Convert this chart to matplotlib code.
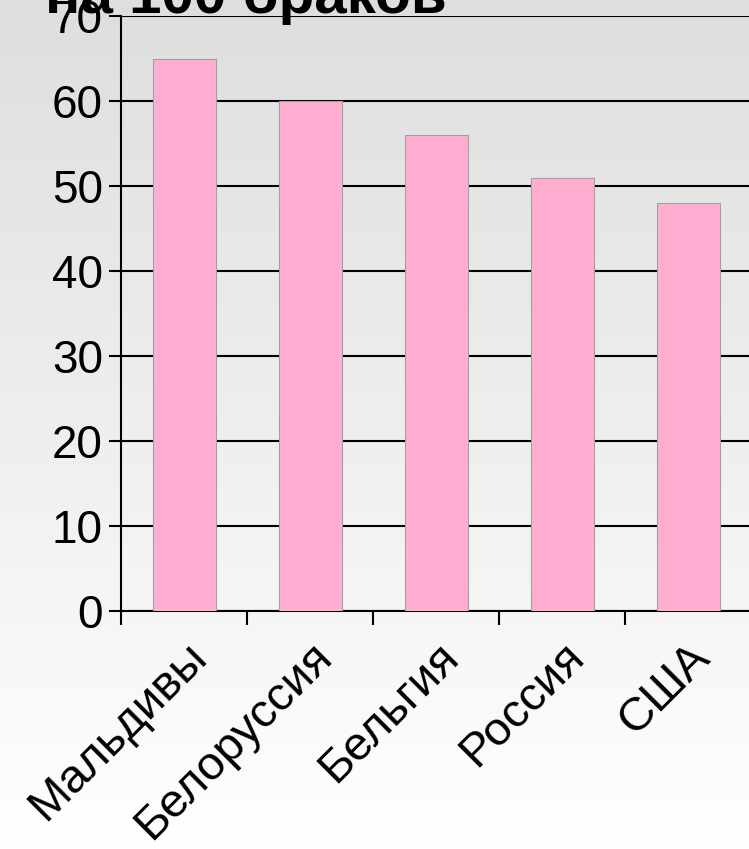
import numpy as np
import matplotlib.pyplot as plt
from matplotlib.colors import LinearSegmentedColormap

plt.rcParams['font.family'] = ['Liberation Sans', 'DejaVu Sans']

# data
countries = ['Мальдивы', 'Белоруссия', 'Бельгия', 'Россия', 'США']
divorces = [65, 60, 56, 51, 48]
y_ticks = [0, 10, 20, 30, 40, 50, 60, 70]

fig = plt.figure(figsize=(7.49, 8.49), dpi=100)

# gradient background, gray at top to white at bottom
bg = fig.add_axes([0, 0, 1, 1], zorder=-10)
grad = np.linspace(0, 1, 256).reshape(-1, 1)
cmap = LinearSegmentedColormap.from_list('bg', ['#dedede', '#ffffff'])
bg.imshow(grad, aspect='auto', cmap=cmap, extent=[0, 1, 0, 1])
bg.axis('off')

ax = fig.add_axes([121 / 749, 1 - 611 / 849, 630 / 749, 595 / 849])
ax.patch.set_alpha(0)

x = np.arange(len(countries))
ax.bar(x, divorces, width=0.5, color='#ffaed2', edgecolor='#a0a0a0',
       linewidth=0.8, zorder=3)

ax.set_xlim(-0.5, len(countries) - 0.5)
ax.set_ylim(0, 70)
ax.set_yticks(y_ticks)
ax.yaxis.grid(True, color='black', linewidth=1.5, zorder=1)
ax.set_axisbelow(True)

# ticks at category boundaries, labels at centers
ax.set_xticks(np.arange(-0.5, len(countries), 1.0))
ax.set_xticklabels([])
ax.set_xticks(x, minor=True)
ax.set_xticklabels(countries, minor=True, rotation=45, ha='right', va='top',
                   rotation_mode='anchor', fontsize=34)
ax.tick_params(axis='x', which='minor', length=0, pad=17)
ax.tick_params(axis='x', which='major', length=10, width=1.5, direction='out')
ax.tick_params(axis='y', length=9, width=1.5, direction='out', labelsize=33, pad=4)

for s in ['top', 'right']:
    ax.spines[s].set_visible(False)
for s in ['left', 'bottom']:
    ax.spines[s].set_linewidth(1.5)

# title, mostly cut off at the top edge
fig.text(45 / 749, 1 - 13 / 849, 'на 100 браков', fontsize=42,
         fontweight='bold', ha='left', va='baseline')

fig.savefig('out.png', dpi=100)
